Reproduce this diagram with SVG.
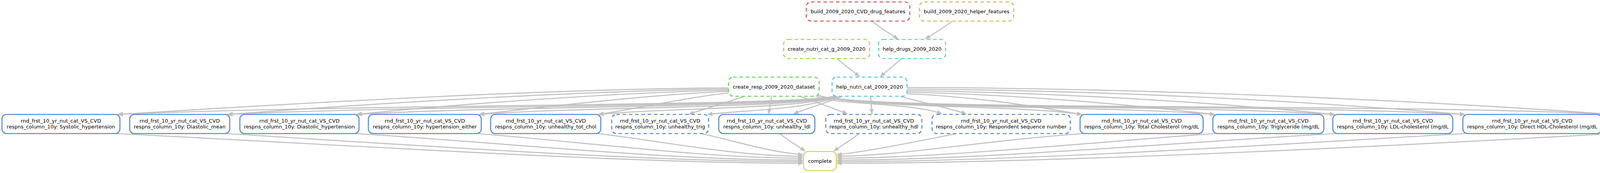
<svg xmlns="http://www.w3.org/2000/svg" width="4384" height="443" viewBox="0 0 4384 443">
<defs>
<marker id="arr" markerUnits="userSpaceOnUse" markerWidth="16" markerHeight="12" refX="11" refY="5.5" orient="auto"><path d="M0,0 L14,5.5 L0,11 z" fill="#c0c0c0"/></marker>
</defs>
<style>
.n rect{fill:#fff;stroke-width:2.7}
.d rect{stroke-dasharray:9,7}
.b rect{stroke:#578bd9}
text{font-family:"DejaVu Sans","Liberation Sans",sans-serif;font-size:13px;fill:#000;text-anchor:middle}
#edges path{fill:none;stroke:#c0c0c0;stroke-width:2.7;marker-end:url(#arr)}
</style>
<rect width="4384" height="443" fill="#fff"/>
<g id="edges">
<path d="M2231,53 C2248,67 2270,82 2298,99"/>
<path d="M2439,53 C2420,68 2395,84 2370,99"/>
<path d="M2143,150 C2160,165 2180,180 2199,195"/>
<path d="M2308,150 C2292,165 2272,180 2255,195"/>
<path d="M1865,225 C1400,228 800,262 302,293"/>
<path d="M1865,228 C1500,232 950,265 583,293"/>
<path d="M1865,231 C1600,236 1150,268 914,293"/>
<path d="M1865,234 C1700,240 1400,272 1227,293"/>
<path d="M1866,238 C1780,246 1640,276 1533,293"/>
<path d="M1905,247 C1860,262 1800,280 1765,292"/>
<path d="M2136,246 C2060,272 900,266 304,293"/>
<path d="M2138,246 C2060,274 1100,268 585,293"/>
<path d="M2140,246 C2060,276 1300,270 916,293"/>
<path d="M2142,246 C2060,278 1500,272 1229,293"/>
<path d="M2145,246 C2060,280 1700,276 1535,293"/>
<path d="M2150,246 C2060,282 1900,282 1813,293"/>
<path d="M2155,247 C2120,262 2070,276 2033,291"/>
<path d="M1975,247 C1973,262 1970,276 1968,290"/>
<path d="M2050,247 C2090,262 2130,276 2168,291"/>
<path d="M2229,247 C2230,262 2231,276 2232,290"/>
<path d="M2305,247 C2360,262 2425,276 2472,291"/>
<path d="M2090,247 C2150,270 2330,262 2410,291"/>
<path d="M2094,244 C2200,278 2600,268 2768,293"/>
<path d="M2094,244 C2200,280 2800,268 3108,293"/>
<path d="M2094,244 C2200,282 3000,266 3415,293"/>
<path d="M2094,244 C2200,284 3200,264 3748,293"/>
<path d="M2094,244 C2200,286 3500,262 4129,293"/>
<path d="M2322,240 C2500,248 2650,272 2768,293"/>
<path d="M2322,236 C2600,242 2900,268 3108,293"/>
<path d="M2322,232 C2750,238 3150,266 3415,293"/>
<path d="M2322,228 C2900,232 3400,264 3748,293"/>
<path d="M2322,224 C3000,226 3700,262 4129,293"/>
<path d="M298,342 C900,372 1600,418 2054,418"/>
<path d="M580,342 C1000,368 1650,414 2054,414"/>
<path d="M910,342 C1300,366 1700,410 2054,410"/>
<path d="M1222,342 C1500,364 1800,405 2054,405"/>
<path d="M1530,342 C1700,362 1880,400 2054,400"/>
<path d="M1795,342 C1880,360 1960,388 2054,396"/>
<path d="M1996,342 C2015,358 2040,372 2060,386"/>
<path d="M2199,342 C2180,358 2155,372 2136,386"/>
<path d="M2449,342 C2350,362 2220,388 2144,396"/>
<path d="M2772,342 C2500,362 2300,400 2144,400"/>
<path d="M3110,342 C2800,364 2400,405 2144,405"/>
<path d="M3417,342 C3000,366 2500,410 2144,410"/>
<path d="M3750,342 C3300,368 2600,414 2144,414"/>
<path d="M4131,342 C3600,372 2700,418 2144,418"/>
</g>
<g id="build_2009_2020_CVD_drug_features" class="n d"><rect x="2064" y="5" width="265" height="49" rx="12" stroke="#d95757"/><text x="2196.5" y="34">build_2009_2020_CVD_drug_features</text></g>
<g id="build_2009_2020_helper_features" class="n d"><rect x="2354" y="5" width="241" height="49" rx="12" stroke="#d9b557"/><text x="2474.5" y="34">build_2009_2020_helper_features</text></g>
<g id="create_nutri_cat_g_2009_2020" class="n d"><rect x="2006" y="101" width="220" height="49" rx="12" stroke="#98d957"/><text x="2116" y="130">create_nutri_cat_g_2009_2020</text></g>
<g id="help_drugs_2009_2020" class="n d"><rect x="2249" y="101" width="172" height="49" rx="12" stroke="#57d9c0"/><text x="2335" y="130">help_drugs_2009_2020</text></g>
<g id="create_resp_2009_2020_dataset" class="n d"><rect x="1865" y="197.5" width="232" height="49" rx="12" stroke="#63d957"/><text x="1981" y="226.5">create_resp_2009_2020_dataset</text></g>
<g id="help_nutri_cat_2009_2020" class="n d"><rect x="2130" y="197.5" width="192" height="49" rx="12" stroke="#57cad9"/><text x="2226" y="226.5">help_nutri_cat_2009_2020</text></g>
<g id="n1" class="n b"><rect x="5" y="293" width="302" height="49" rx="12"/><text x="156" y="314">rnd_frst_10_yr_nut_cat_VS_CVD</text><text x="156" y="329">respns_column_10y: Systolic_hypertension</text></g>
<g id="n2" class="n b"><rect x="332" y="293" width="256" height="49" rx="12"/><text x="460" y="314">rnd_frst_10_yr_nut_cat_VS_CVD</text><text x="460" y="329">respns_column_10y: Diastolic_mean</text></g>
<g id="n3" class="n b"><rect x="614" y="293" width="305" height="49" rx="12"/><text x="766.5" y="314">rnd_frst_10_yr_nut_cat_VS_CVD</text><text x="766.5" y="329">respns_column_10y: Diastolic_hypertension</text></g>
<g id="n4" class="n b"><rect x="943" y="293" width="289" height="49" rx="12"/><text x="1087.5" y="314">rnd_frst_10_yr_nut_cat_VS_CVD</text><text x="1087.5" y="329">respns_column_10y: hypertension_either</text></g>
<g id="n5" class="n b"><rect x="1256" y="293" width="282" height="49" rx="12"/><text x="1397" y="314">rnd_frst_10_yr_nut_cat_VS_CVD</text><text x="1397" y="329">respns_column_10y: unhealthy_tot_chol</text></g>
<g id="n6" class="n b d"><rect x="1566" y="293" width="248" height="49" rx="12"/><text x="1690" y="314">rnd_frst_10_yr_nut_cat_VS_CVD</text><text x="1690" y="329">respns_column_10y: unhealthy_trig</text></g>
<g id="n7" class="n b"><rect x="1840" y="293" width="246" height="49" rx="12"/><text x="1963" y="314">rnd_frst_10_yr_nut_cat_VS_CVD</text><text x="1963" y="329">respns_column_10y: unhealthy_ldl</text></g>
<g id="n8" class="n b d"><rect x="2114" y="293" width="246" height="49" rx="12"/><text x="2237" y="314">rnd_frst_10_yr_nut_cat_VS_CVD</text><text x="2237" y="329">respns_column_10y: unhealthy_hdl</text></g>
<g id="n9" class="n b d"><rect x="2386" y="293" width="354" height="49" rx="12"/><text x="2563" y="314">rnd_frst_10_yr_nut_cat_VS_CVD</text><text x="2563" y="329">respns_column_10y: Respondent sequence number</text></g>
<g id="n10" class="n b"><rect x="2765" y="293" width="315" height="49" rx="12"/><text x="2922.5" y="314">rnd_frst_10_yr_nut_cat_VS_CVD</text><text x="2922.5" y="329">respns_column_10y: Total Cholesterol (mg/dL</text></g>
<g id="n11" class="n b"><rect x="3105" y="293" width="284" height="49" rx="12"/><text x="3247" y="314">rnd_frst_10_yr_nut_cat_VS_CVD</text><text x="3247" y="329">respns_column_10y: Triglyceride (mg/dL</text></g>
<g id="n12" class="n b"><rect x="3412" y="293" width="307" height="49" rx="12"/><text x="3565.5" y="314">rnd_frst_10_yr_nut_cat_VS_CVD</text><text x="3565.5" y="329">respns_column_10y: LDL-cholesterol (mg/dL</text></g>
<g id="n13" class="n b"><rect x="3745" y="293" width="355" height="49" rx="12"/><text x="3922.5" y="314">rnd_frst_10_yr_nut_cat_VS_CVD</text><text x="3922.5" y="329">respns_column_10y: Direct HDL-Cholesterol (mg/dL</text></g>
<g id="n14" class="n b d"><rect x="4126" y="293" width="252" height="49" rx="12"/><text x="4252" y="314">rnd_frst_10_yr_nut_cat_VS_CVD</text><text x="4252" y="329">respns_column_10y: Systolic_mean</text></g>
<g id="complete" class="n"><rect x="2057" y="388" width="84" height="49" rx="12" stroke="#d9d457"/><text x="2099" y="417">complete</text></g>
</svg>
